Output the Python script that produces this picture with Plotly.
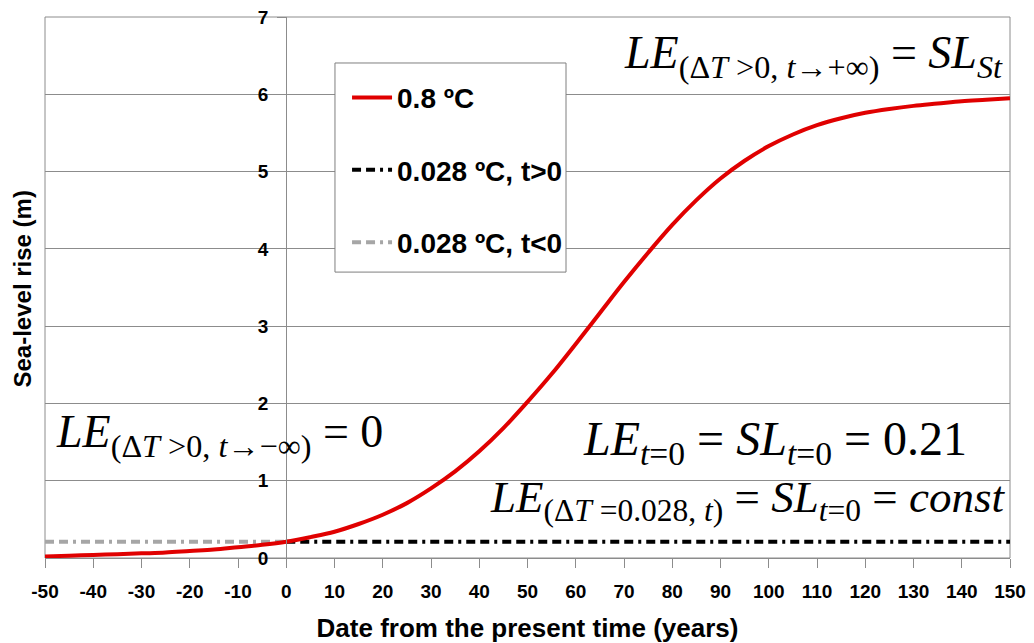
import plotly.graph_objects as go

# ---- data ----
years = [-50, -45, -40, -35, -30, -25, -20, -15, -10, -5, 0, 5, 10, 15, 20, 25, 30, 35, 40, 45,
         50, 55, 60, 65, 70, 75, 80, 85, 90, 95, 100, 105, 110, 115, 120, 125, 130, 135, 140, 145, 150]
sea_level_08 = [0.02, 0.03, 0.04, 0.05, 0.06, 0.07, 0.09, 0.11, 0.14, 0.17, 0.21, 0.27, 0.34, 0.44,
                0.56, 0.71, 0.90, 1.12, 1.38, 1.68, 2.02, 2.38, 2.77, 3.17, 3.57, 3.95, 4.31, 4.63,
                4.91, 5.14, 5.33, 5.48, 5.60, 5.69, 5.76, 5.81, 5.85, 5.88, 5.91, 5.93, 5.95]
const_x_future = [0, 150]
const_x_past = [-50, 0]
const_level = [0.21, 0.21]

x_ticks = list(range(-50, 151, 10))
x_tick_text = [str(v) for v in x_ticks]
y_ticks = list(range(0, 8))

FONT = "Liberation Sans"
SERIF = "Liberation Serif"
GRID = "#8c8c8c"
DASH = "9px,5px,9px,5px,3px,5px"

fig = go.Figure()
fig.add_trace(go.Scatter(x=const_x_past, y=const_level, mode="lines", name="0.028 ºC, t&lt;0",
                         line=dict(color="#a6a6a6", width=4, dash=DASH),
                         legendgroup="c", legendrank=3))
fig.add_trace(go.Scatter(x=const_x_future, y=const_level, mode="lines", name="0.028 ºC, t&gt;0",
                         line=dict(color="#000000", width=4, dash=DASH),
                         legendgroup="b", legendrank=2))
fig.add_trace(go.Scatter(x=years, y=sea_level_08, mode="lines", name="0.8 ºC",
                         line=dict(color="#e00000", width=4, shape="spline"),
                         legendgroup="a", legendrank=1))

fig.update_layout(
    width=1034, height=643,
    margin=dict(l=37, r=32, t=9, b=93),
    paper_bgcolor="white", plot_bgcolor="white",
    font=dict(family=FONT, color="black"),
    showlegend=True,
    legend=dict(x=0.313, y=0.897, xanchor="left", yanchor="top",
                bgcolor="rgba(0,0,0,0)", borderwidth=0,
                font=dict(family=FONT, size=28, weight="bold", color="black"),
                traceorder="grouped", tracegroupgap=33, itemwidth=40),
    xaxis=dict(range=[-50, 150], tickvals=x_ticks, ticktext=x_tick_text, ticks="outside", ticklen=9,
               tickcolor=GRID, showline=True, linecolor=GRID, linewidth=1,
               showgrid=False, zeroline=False, automargin=False, ticklabelstandoff=7,
               ticklabeloverflow="allow",
               tickfont=dict(family=FONT, size=19, weight="bold", color="black"),
               title=dict(text="Date from the present time (years)", standoff=18,
                          font=dict(family=FONT, size=26, weight="bold", color="black"))),
    yaxis=dict(range=[0, 7], tickvals=y_ticks, ticks="outside", ticklen=9,
               tickcolor=GRID, showline=True, linecolor=GRID, linewidth=1,
               anchor="free", position=0.25, automargin=False, ticklabelstandoff=5,
               ticklabeloverflow="allow",
               showgrid=True, gridcolor=GRID, gridwidth=1, zeroline=False,
               tickfont=dict(family=FONT, size=19, weight="bold", color="black")),
)

# plot frame and legend box
fig.add_shape(type="rect", xref="paper", yref="paper", x0=0, x1=1, y0=0, y1=1,
              line=dict(color=GRID, width=1), layer="below")
fig.add_shape(type="rect", xref="paper", yref="paper", x0=0.3005, x1=0.5399, y0=0.5285, y1=0.915,
              line=dict(color="#7f7f7f", width=1), fillcolor="white", layer="above")

# y-axis title
fig.add_annotation(xref="paper", yref="paper", x=-0.0395, y=0.497, text="Sea-level rise (m)",
                   textangle=-90, showarrow=False,
                   font=dict(family=FONT, size=24, weight="bold", color="black"))

fig.add_annotation(xref="paper", yref="paper", x=0.995, y=0.928, xanchor="right", yanchor="middle",
                   showarrow=False, font=dict(family=SERIF, size=46, color="black"),
                   text="<i>LE</i><sub>(Δ<i>T</i> &gt;0, <i>t</i>→+∞)</sub> = <i>SL</i><sub><i>St</i></sub>")
fig.add_annotation(xref="paper", yref="paper", x=0.009, y=0.227, xanchor="left", yanchor="middle",
                   showarrow=False, font=dict(family=SERIF, size=46, color="black"),
                   text="<i>LE</i><sub>(Δ<i>T</i> &gt;0, <i>t</i>→−∞)</sub> = 0")
fig.add_annotation(xref="paper", yref="paper", x=0.958, y=0.215, xanchor="right", yanchor="middle",
                   showarrow=False, font=dict(family=SERIF, size=48, color="black"),
                   text="<i>LE</i><sub><i>t</i>=0</sub> = <i>SL</i><sub><i>t</i>=0</sub> = 0.21")
fig.add_annotation(xref="paper", yref="paper", x=0.997, y=0.108, xanchor="right", yanchor="middle",
                   showarrow=False, font=dict(family=SERIF, size=45, color="black"),
                   text="<i>LE</i><sub>(Δ<i>T</i> =0.028, <i>t</i>)</sub> = <i>SL</i><sub><i>t</i>=0</sub> = <i>const</i>")

fig.write_html("out.html")
